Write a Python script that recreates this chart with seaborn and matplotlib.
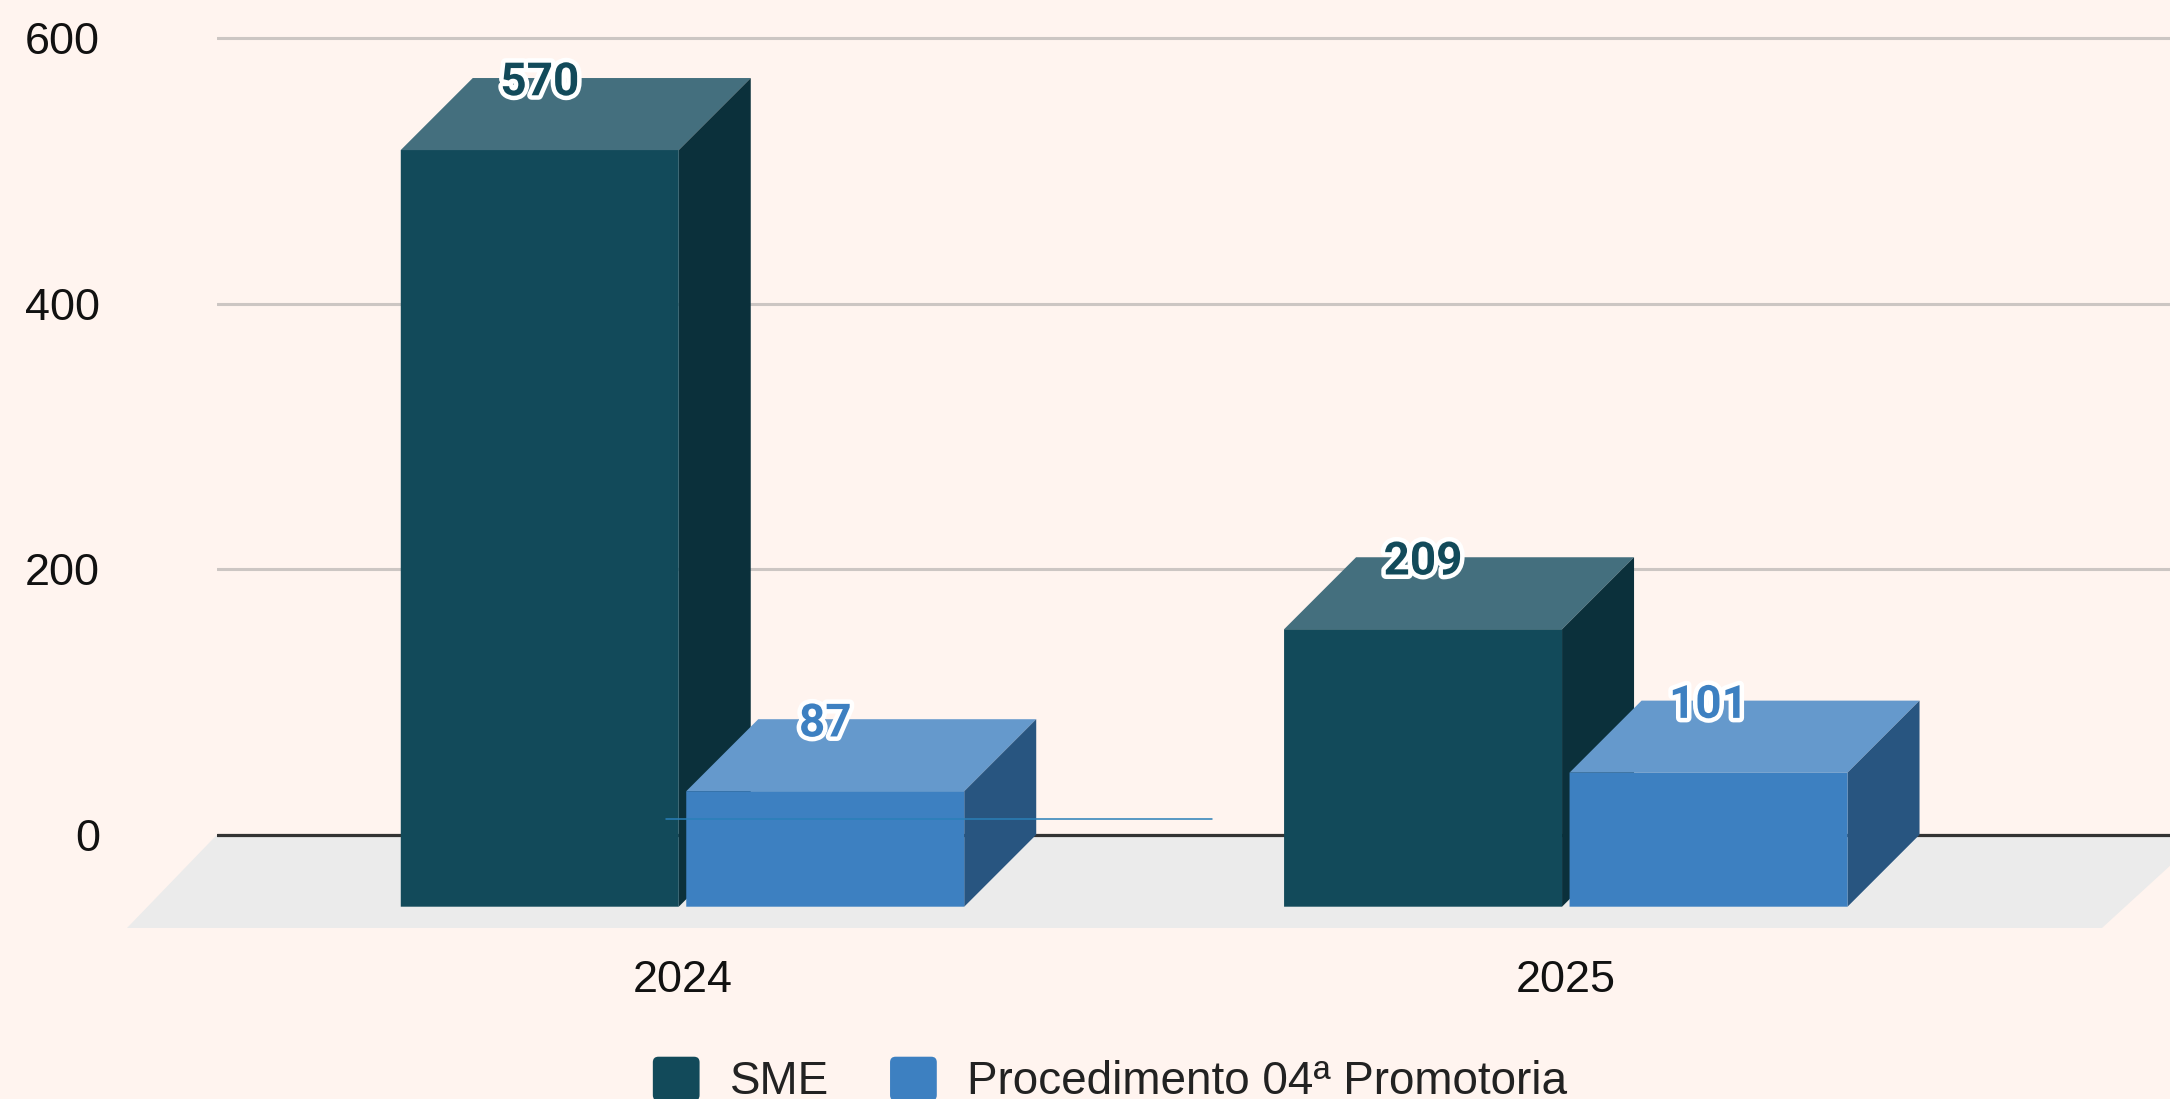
import matplotlib
matplotlib.use('Agg')
import matplotlib.pyplot as plt
import matplotlib.patheffects as pe
from matplotlib.legend_handler import HandlerPatch
from matplotlib.patches import FancyBboxPatch, Rectangle
import pandas as pd
import seaborn as sns

years = ['2024', '2025']
series_names = ['SME', 'Procedimento 04ª Promotoria']
sme_values = [570, 209]
promotoria_values = [87, 101]
y_ticks = [0, 200, 400, 600]

front_colors = ['#124A5A', '#3D80C1']
top_colors = ['#446F7E', '#6599CC']
side_colors = ['#0B303B', '#285580']
bg = '#FFF4EF'

W, H = 2170, 1099
# pixel layout
left_px, bottom_px = 217, 928
base_px = 906.7      # bottom of the front faces
px_per_unit = 1.3275
px_per_group = 883.3
first_group_px = 682.5
depth_px = 72.0

sns.set_theme(style='white')
plt.rcParams['font.family'] = ['Liberation Sans', 'DejaVu Sans']

df = pd.DataFrame({
    'year': years * 2,
    'value': sme_values + promotoria_values,
    'series': [series_names[0]] * 2 + [series_names[1]] * 2,
})

fig = plt.figure(figsize=(W / 100, H / 100), dpi=100, facecolor=bg)
ax = fig.add_axes([left_px / W, 1 - bottom_px / H, 1 - left_px / W, bottom_px / H], facecolor=bg)

sns.barplot(data=df, x='year', y='value', hue='series', hue_order=series_names,
            palette=front_colors, saturation=1, width=0.6464, gap=0.0263,
            linewidth=0, ax=ax)


def xd(px):
    return (px - first_group_px) / px_per_group


def yd(px):
    return (base_px - px) / px_per_unit


ax.set_xlim(xd(left_px), xd(W))
ax.set_ylim(yd(bottom_px), yd(0))
dx = depth_px / px_per_group
dy = depth_px / px_per_unit

# ticks sit on the back wall of the 3d box
ax.set_yticks([t + dy for t in y_ticks], [str(t) for t in y_ticks])
ax.set_xlabel('')
ax.set_ylabel('')
ax.tick_params(axis='y', length=0, pad=(left_px - 100) * 0.72, labelsize=32.4, labelcolor='#111111')
ax.tick_params(axis='x', length=0, pad=23, labelsize=32.4, labelcolor='#111111')
sns.despine(ax=ax, left=True, bottom=True, top=True, right=True)
ax.set_axisbelow(True)
ax.yaxis.grid(True, color='#CCC6C3', linewidth=2.2)
ax.xaxis.grid(False)

# floor
floor = [(xd(127), yd(bottom_px)), (xd(217), dy), (xd(2204), dy), (xd(2102), yd(bottom_px))]
ax.fill(*zip(*floor), color='#EBEBEB', linewidth=0, zorder=1, clip_on=False)
ax.axhline(dy, color='#333333', linewidth=2.3, zorder=1.5)

# 3d faces on top of the bars seaborn drew
for i, container in enumerate(ax.containers):
    for j, bar in enumerate(container):
        x0 = bar.get_x()
        x1 = x0 + bar.get_width()
        h = bar.get_height()
        z = 3 + j * 3 + i
        bar.set_zorder(z + 0.2)
        bar.set_snap(False)
        ax.fill([x0, x1, x1 + dx, x0 + dx], [h, h, h + dy, h + dy],
                color=top_colors[i], linewidth=0, zorder=z)
        ax.fill([x1, x1 + dx, x1 + dx, x1], [0, dy, h + dy, h],
                color=side_colors[i], linewidth=0, zorder=z)
        ax.text((x0 + x1) / 2, h + dy - 3.2, str(int(h)), ha='center', va='center',
                family='Roboto', fontweight='bold', fontsize=33, color=front_colors[i],
                zorder=20, path_effects=[pe.withStroke(linewidth=6.5, foreground='white')])

# stray thin line in the reference
ax.plot([xd(666), xd(1212)], [yd(819), yd(819)], color='#2A7FB8', linewidth=1.1, zorder=21)


def rounded_swatch(legend, orig_handle, xdescent, ydescent, width, height, fontsize):
    return FancyBboxPatch((-xdescent + 3, -ydescent + 3), width - 6, height - 6,
                          boxstyle='round,pad=3,rounding_size=4')


ax.legend(loc='center', bbox_to_anchor=(1110 / W, 18.5 / H), bbox_transform=fig.transFigure,
          ncol=2, frameon=False, fontsize=33, labelcolor='#222222', handlelength=1.02,
          handleheight=1.1, handletextpad=0.66, columnspacing=1.33, borderpad=0, borderaxespad=0,
          handler_map={Rectangle: HandlerPatch(patch_func=rounded_swatch)})

fig.savefig('out.png', dpi=100, facecolor=bg)
